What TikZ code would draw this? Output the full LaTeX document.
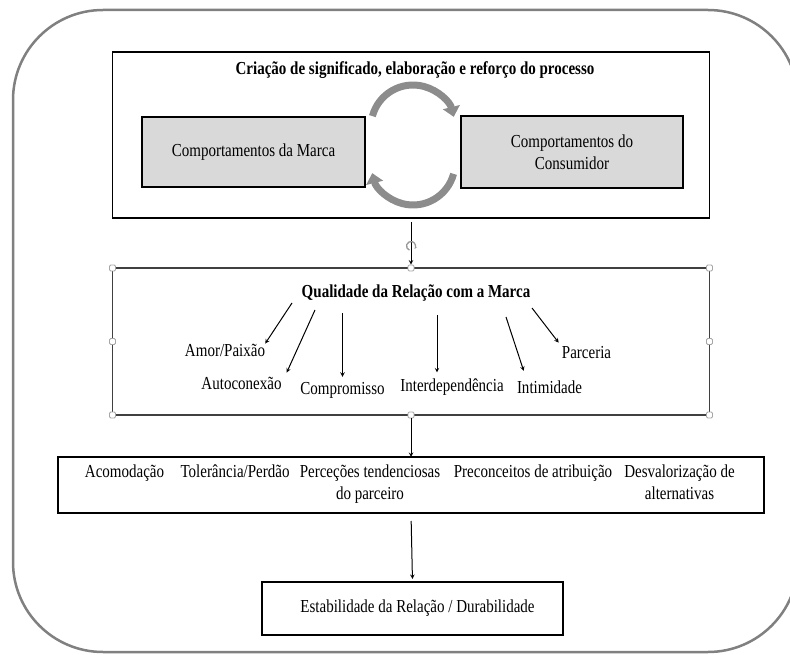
\documentclass[tikz,border=0pt]{standalone}
\usepackage{fontspec}
\setmainfont{Liberation Serif}[FakeStretch=0.82]
\usetikzlibrary{arrows.meta}
\usetikzlibrary{calc}

\begin{document}
\begin{tikzpicture}[x=1pt, y=-1pt,
        font=\fontsize{18.3}{22}\selectfont,
        X/.style={draw, line width=1.6, inner sep=0, outer sep=0},
        G/.style={X, line width=1.1, fill=black!15, align=center},
        H/.style={draw=black!35, fill=white, line width=0.8, rounded corners=1.2,
            minimum size=6, inner sep=0},
        T/.style={inner sep=0, align=center},
        myarrow/.style={line width=1, ->, >=stealth},
        ring/.style={line width=7, draw=black!45, -{Triangle[length=10, width=17]}}
    ]

    \def\xc{411}
    \def\r{42}

    \useasboundingbox (0,0) rectangle (790,655);
    \draw[gray, line width=2.5, rounded corners=90] (13,10) rectangle (798,652);

    % criacao de significado
    \node[X, minimum width=597, minimum height=166] (proc) at (\xc,135) {};
    \node[T] (ptitle) at (415,70) {\bfseries Criação de significado, elaboração e reforço do processo};
    \node[G, minimum width=223, minimum height=70] (marca) at (253.5,152) {Comportamentos da Marca};
    \node[G, minimum width=222, minimum height=72] (cons) at (572,152) {Comportamentos do\\Consumidor};

    \draw[ring] (413,127) ++(195:\r) arc[start angle=195, end angle=346, radius=\r];
    \draw[ring] (413,163) ++(15:\r) arc[start angle=15, end angle=166, radius=\r];

    % qualidade da relacao
    \node[X, draw=black!75, minimum width=597, minimum height=147] (qual) at (\xc,341.5) {};
    \node[T] (qtitle) at (416,293) {\bfseries Qualidade da Relação com a Marca};
    \node[T] (amor) at (225,350) {Amor/Paixão};
    \node[T] (autoc) at (241.5,383) {Autoconexão};
    \node[T] (compr) at (342.5,390) {Compromisso};
    \node[T] (interd) at (452,387) {Interdependência};
    \node[T] (intim) at (549.5,387) {Intimidade};
    \node[T] (parc) at (586.5,353) {Parceria};

    \coordinate (s1) at (292,303);
    \coordinate (s2) at (315,310);
    \coordinate (s3) at (342.5,313);
    \coordinate (s4) at (437,315);
    \coordinate (s5) at (506,317);
    \coordinate (s6) at (532,308);
    \draw[myarrow] (s1) -- (amor.north east);
    \draw[myarrow] (s2) -- ([shift={(5,-4)}]autoc.north east);
    \draw[myarrow, shorten >=5] (s3) -- (s3 |- compr.north);
    \draw[myarrow, shorten >=6] (s4) -- (s4 |- interd.north);
    \draw[myarrow, shorten >=10] (s5) -- ([xshift=10]intim.north west);
    \draw[myarrow, shorten >=5] (s6) -- (parc.north west);

    \node[circle, fill=white, inner sep=0, minimum size=11] (rot) at (\xc,246) {};
    \foreach \a/\n in {north west/1, north/2, north east/3, west/4, east/5,
        south west/6, south/7, south east/8}
        \node[H] (h\n) at (qual.\a) {};
    \draw[myarrow, shorten <=4] (proc.south) -- (h2);
    \draw[black!40, line width=1.3, -{Stealth[length=3]}] (rot) ++(110:4.5) arc[start angle=110, end angle=400, radius=4.5];

    % efeitos
    \node[X, minimum width=706, minimum height=56] (sel) at (\xc,485) {};
    \node[T, anchor=north] (acom) at (124.5,465) {Acomodação};
    \node[T, anchor=north] (toler) at (235,465) {Tolerância/Perdão};
    \node[T, anchor=north] (perc) at (370,465) {Perceções tendenciosas\\do parceiro};
    \node[T, anchor=north] (prec) at (533,465) {Preconceitos de atribuição};
    \node[T, anchor=north] (desv) at (679.5,465) {Desvalorização de\\alternativas};
    \draw[myarrow] (h7) -- (sel.north);

    \node[X, minimum width=301, minimum height=53] (estab) at (412.5,608.5) {\hspace*{10pt}Estabilidade da Relação / Durabilidade};
    \draw[myarrow, shorten <=8, shorten >=3] (sel.south) -- (estab.north);
\end{tikzpicture}
\end{document}
